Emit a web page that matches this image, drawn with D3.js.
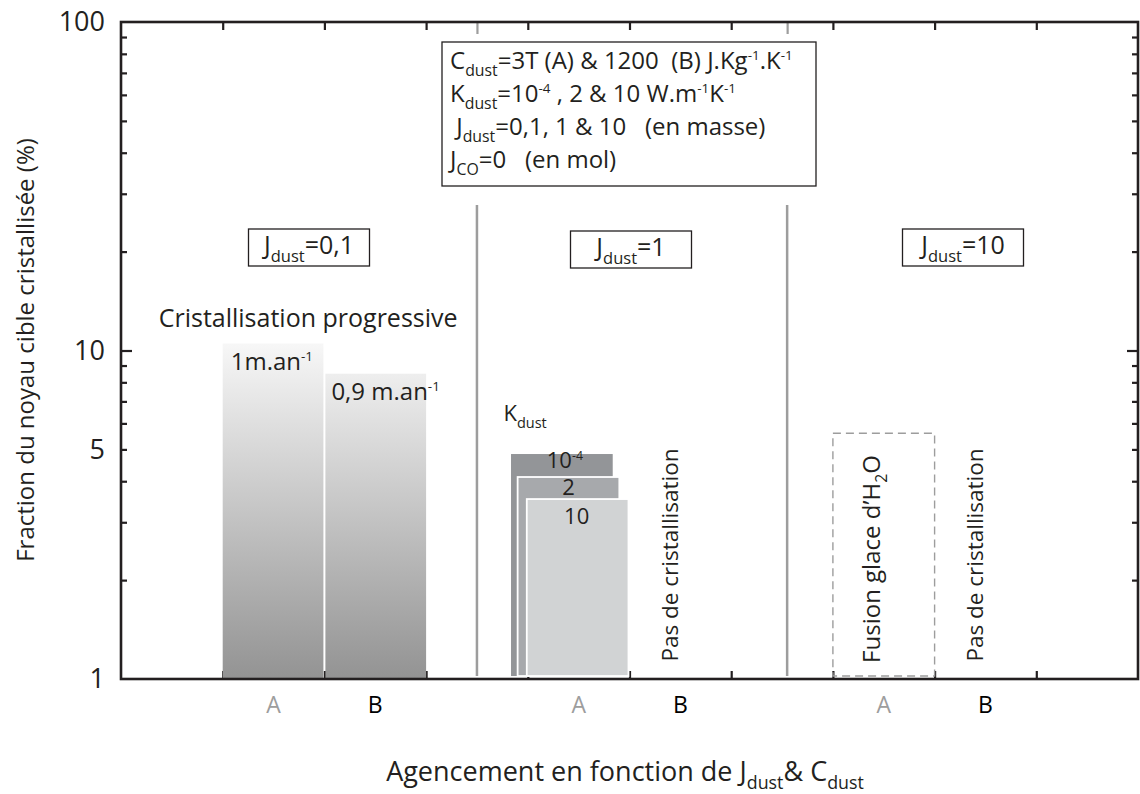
<!DOCTYPE html>
<html>
<head>
<meta charset="utf-8">
<script src="https://cdn.jsdelivr.net/npm/d3@7"></script>
<style>
  body { margin: 0; background: #fff; }
  svg text { font-family: "Open Sans", "Noto Sans", sans-serif; fill: #231f20; white-space: pre; }
</style>
</head>
<body>
<div id="chart"></div>
<script>
// ---- data ----
var groups = ["0,1", "1", "10"];            // J_dust
var slotNames = ["A", "B"];                 // C_dust case
var groupStart = [1, 4, 7];                 // first x cell of each group
var dividerAt = [3.5, 6.55];
var xTicks = [1, 2, 3, 4, 5, 6, 7, 8, 9];
var yLabelTicks = [1, 5, 10, 100];
var yMinorTicks = [2, 3, 4, 5, 6, 7, 8, 9, 20, 30, 40, 50, 60, 70, 80, 90];

// J_dust = 0,1 : progressive crystallisation
var progValues = [10.5, 8.5];
var progLabels = ["1m.an^{-1}", "0,9 m.an^{-1}"];

// J_dust = 1, case A : three K_dust values
var kLevels = ["10^{-4}", "2", "10"];
var kValues = [4.84, 4.12, 3.53];

// J_dust = 10, case A : water ice melting
var fusionValue = 5.6;

var legendLines = [
  "C_{dust}=3T (A) & 1200  (B) J.Kg^{-1}.K^{-1}",
  "K_{dust}=10^{-4} , 2 & 10 W.m^{-1}K^{-1}",
  " J_{dust}=0,1, 1 & 10   (en masse)",
  "J_{CO}=0   (en mol)"
];

// ---- layout ----
var W = 1140, H = 794;
var X0 = 121, X1 = 1138, Y0 = 22, Y1 = 679;
var ink = "#231f20";

var svg = d3.select("#chart").append("svg").attr("width", W).attr("height", H);

var x = d3.scaleLinear().domain([0, 10]).range([X0, X1]);
var y = d3.scaleLog().domain([1, 100]).range([Y1, Y0]);

// writes text with _{sub} and ^{sup} parts as tspans
function richText(sel, str, fs) {
  var re = /(_|\^)\{([^}]*)\}/g, last = 0, m, shift = 0;
  function add(t, kind) {
    var target = kind === "sub" ? fs * 0.3 : kind === "sup" ? -fs * 0.36 : 0;
    sel.append("tspan").text(t)
      .attr("dy", target - shift)
      .attr("font-size", kind === "sub" ? fs * 0.66 : kind === "sup" ? fs * 0.56 : fs);
    shift = target;
  }
  while ((m = re.exec(str))) {
    if (m.index > last) add(str.slice(last, m.index), null);
    add(m[2], m[1] === "_" ? "sub" : "sup");
    last = re.lastIndex;
  }
  if (last < str.length) add(str.slice(last), null);
}

function styleAxis(g, col) {
  g.select(".domain").remove();
  g.selectAll(".tick line").attr("stroke", col || ink).attr("stroke-width", 2.2);
}

// ---- ticks (under the bars) ----
svg.append("g").attr("transform", "translate(0," + Y1 + ")")
  .call(d3.axisTop(x).tickValues(xTicks).tickSize(8).tickFormat(""))
  .call(styleAxis);
svg.append("g").attr("transform", "translate(0," + Y0 + ")")
  .call(d3.axisBottom(x).tickValues(xTicks).tickSize(8).tickFormat(""))
  .call(styleAxis);
svg.append("g").attr("transform", "translate(0," + Y0 + ")")
  .call(d3.axisBottom(x).tickValues(dividerAt).tickSize(12).tickFormat(""))
  .call(styleAxis, "#9d9d9d");

svg.append("g").attr("transform", "translate(" + X0 + ",0)")
  .call(d3.axisRight(y).tickValues(yMinorTicks).tickSize(6).tickFormat(""))
  .call(styleAxis);
svg.append("g").attr("transform", "translate(" + X0 + ",0)")
  .call(d3.axisRight(y).tickValues([10]).tickSize(11).tickFormat(""))
  .call(styleAxis);
svg.append("g").attr("transform", "translate(" + X1 + ",0)")
  .call(d3.axisLeft(y).tickValues(yMinorTicks).tickSize(6).tickFormat(""))
  .call(styleAxis);
svg.append("g").attr("transform", "translate(" + X1 + ",0)")
  .call(d3.axisLeft(y).tickValues([10]).tickSize(11).tickFormat(""))
  .call(styleAxis);

// y labels
var yl = svg.append("g").attr("transform", "translate(" + X0 + ",0)")
  .call(d3.axisLeft(y).tickValues(yLabelTicks).tickSize(0).tickPadding(16).tickFormat(d3.format("d")));
yl.select(".domain").remove();
yl.selectAll("text").attr("font-size", 27).attr("fill", ink)
  .style("font-family", '"Open Sans", sans-serif');

// group dividers
svg.selectAll(".divider").data(dividerAt).enter().append("line")
  .attr("class", "divider")
  .attr("x1", function (d) { return x(d); }).attr("x2", function (d) { return x(d); })
  .attr("y1", 205).attr("y2", Y1 - 3)
  .attr("stroke", "#9d9d9d").attr("stroke-width", 2.5);

// ---- progressive bars (J_dust = 0,1) ----
var grad = svg.append("defs").append("linearGradient").attr("id", "prog")
  .attr("gradientUnits", "userSpaceOnUse")
  .attr("x1", 0).attr("x2", 0).attr("y1", y(progValues[0])).attr("y2", Y1);
grad.append("stop").attr("offset", "0%").attr("stop-color", "#f7f7f7");
grad.append("stop").attr("offset", "100%").attr("stop-color", "#939393");

svg.selectAll(".prog").data(progValues).enter().append("rect")
  .attr("class", "prog")
  .attr("x", function (d, i) { return x(groupStart[0] + i) + (i ? 1 : 0); })
  .attr("width", function (d, i) { return x(1) - x(0) - 1; })
  .attr("y", function (d) { return y(d); })
  .attr("height", function (d) { return Y1 - y(d); })
  .attr("fill", "url(#prog)");

svg.selectAll(".progLbl").data(progLabels).enter().append("text")
  .attr("class", "progLbl")
  .attr("x", function (d, i) { return x(groupStart[0] + i) + (i ? 7 : 8); })
  .attr("y", function (d, i) { return y(progValues[i]) + 26; })
  .each(function (d) { richText(d3.select(this), d, 24); });

svg.append("text").attr("x", x(groupStart[0] + 0.84)).attr("y", 327)
  .attr("text-anchor", "middle").attr("font-size", 25)
  .text("Cristallisation progressive");

// ---- K_dust bars (J_dust = 1, A) ----
var kFill = ["#939598", "#a7a9ac", "#d1d3d4"];
var kShift = [-0.165, -0.1, -0.01];
var kb = svg.selectAll(".kbar").data(kValues).enter().append("g").attr("class", "kbar");
kb.append("rect")
  .attr("x", function (d, i) { return x(groupStart[1] + kShift[i]); })
  .attr("width", x(1) - x(0))
  .attr("y", function (d) { return y(d); })
  .attr("height", function (d) { return Y1 - 3 - y(d); })
  .attr("fill", function (d, i) { return kFill[i]; })
  .attr("stroke", function (d, i) { return i ? "#fff" : "none"; })
  .attr("stroke-width", 1.8);
kb.append("text")
  .attr("x", function (d, i) { return x(groupStart[1] + kShift[i] + 0.5) + [3, 0, -1][i]; })
  .attr("y", function (d, i) { return y(d) + [14, 18, 25][i]; })
  .attr("text-anchor", "middle")
  .each(function (d, i) { richText(d3.select(this), kLevels[i], 22); });

svg.append("text").attr("x", x(groupStart[1] - 0.24)).attr("y", 421)
  .each(function () { richText(d3.select(this), "K_{dust}", 22); });

// ---- fusion box (J_dust = 10, A) ----
svg.append("rect")
  .attr("x", x(groupStart[2])).attr("width", x(1) - x(0))
  .attr("y", y(fusionValue)).attr("height", Y1 - 3 - y(fusionValue))
  .attr("fill", "none").attr("stroke", "#9d9d9d").attr("stroke-width", 1.4)
  .attr("stroke-dasharray", "8,5");

function vertical(cx, cy, str, fs) {
  svg.append("text").attr("transform", "translate(" + cx + "," + cy + ") rotate(-90)")
    .attr("text-anchor", "middle").attr("dy", "0.35em")
    .each(function () { richText(d3.select(this), str, fs); });
}
vertical(x(groupStart[2] + 0.46), 559, "Fusion glace d’H_{2}O", 24);
vertical(x(groupStart[1] + 1.48), 555, "Pas de cristallisation", 22.5);
vertical(x(groupStart[2] + 1.48), 555, "Pas de cristallisation", 22.5);

// ---- frame ----
svg.append("rect").attr("x", X0).attr("y", Y0).attr("width", X1 - X0).attr("height", Y1 - Y0)
  .attr("fill", "none").attr("stroke", ink).attr("stroke-width", 2.6);

// ---- x category labels ----
groups.forEach(function (g, gi) {
  slotNames.forEach(function (s, si) {
    svg.append("text")
      .attr("x", x(groupStart[gi] + si + 0.5)).attr("y", 713)
      .attr("text-anchor", "middle").attr("font-size", 23)
      .style("fill", si ? "#000" : "#9d9d9d")
      .text(s);
  });
});

// ---- J_dust boxes ----
var jBoxCx = [309, 631, 963];
var jBoxY = [229, 231, 229];
groups.forEach(function (g, gi) {
  svg.append("rect").attr("x", jBoxCx[gi] - 60.5).attr("y", jBoxY[gi])
    .attr("width", 121).attr("height", 37)
    .attr("fill", "#fff").attr("stroke", ink).attr("stroke-width", 1.3);
  svg.append("text").attr("x", jBoxCx[gi]).attr("y", jBoxY[gi] + 25)
    .attr("text-anchor", "middle")
    .each(function () { richText(d3.select(this), "J_{dust}=" + g, 25); });
});

// ---- legend box ----
svg.append("rect").attr("x", 442).attr("y", 42).attr("width", 374).attr("height", 144)
  .attr("fill", "#fff").attr("stroke", ink).attr("stroke-width", 1.3);
legendLines.forEach(function (l, i) {
  svg.append("text").attr("x", 450).attr("y", 69 + i * 33)
    .each(function () { richText(d3.select(this), l, 24); });
});

// ---- axis titles ----
svg.append("text").attr("transform", "translate(34,350) rotate(-90)")
  .attr("text-anchor", "middle").attr("font-size", 24)
  .text("Fraction du noyau cible cristallisée (%)");
svg.append("text").attr("x", 625).attr("y", 781).attr("text-anchor", "middle")
  .each(function () { richText(d3.select(this), "Agencement en fonction de J_{dust}& C_{dust}", 27); });
</script>
</body>
</html>
